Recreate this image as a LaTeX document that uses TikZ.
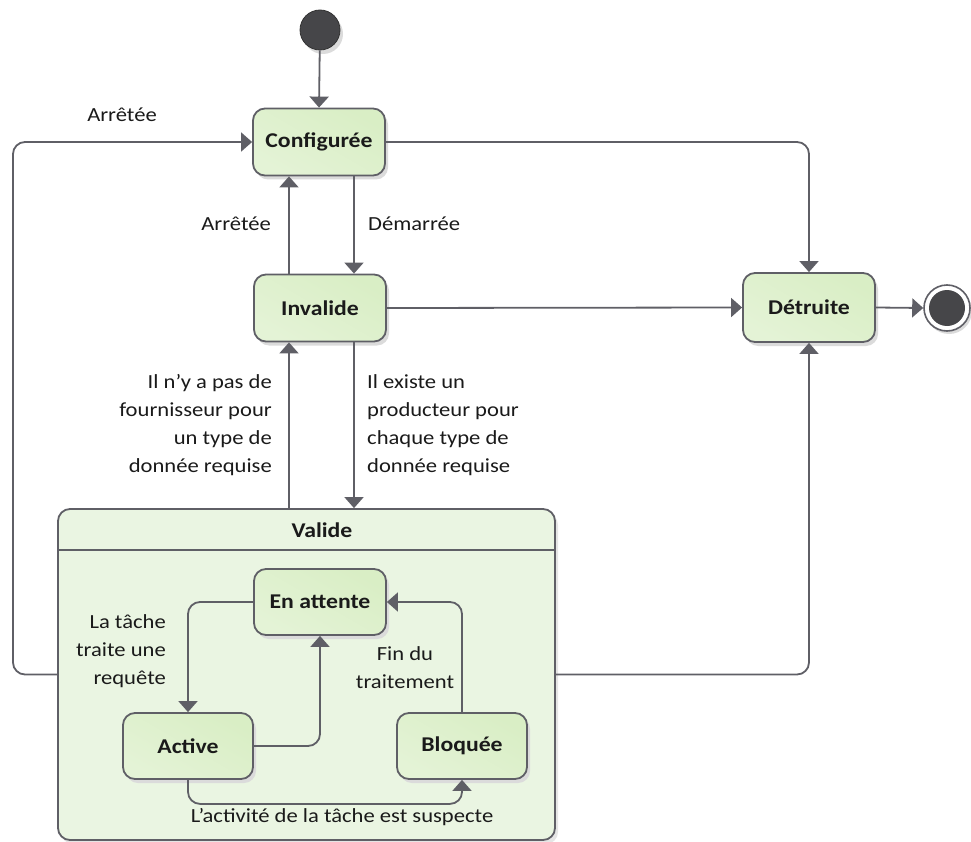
\documentclass[tikz,border=0pt]{standalone}
\usepackage{fontspec}
\setmainfont{Carlito}[FakeStretch=1.13]
\usetikzlibrary{arrows.meta,shadows}
\definecolor{linec}{HTML}{5F5F66}
\definecolor{boxfill}{HTML}{D9EEC5}
\definecolor{boxfillb}{HTML}{E4F3D6}
\definecolor{contfill}{HTML}{EAF5E2}
\definecolor{textc}{HTML}{1A1A1A}
\definecolor{dotc}{HTML}{464649}
\tikzset{
  x=1pt, y=-1pt,
  stbox/.style={draw=linec, line width=1.8pt, rounded corners=12pt,
    top color=boxfill, bottom color=boxfillb, shading angle=-30,
    minimum width=132pt, minimum height=67pt, inner sep=0pt,
    font=\fontsize{21}{24}\selectfont\bfseries, text=textc,
    drop shadow={shadow xshift=3pt, shadow yshift=-4pt, fill=black!14, opacity=1}},
  contbox/.style={draw=linec, line width=1.8pt, rounded corners=12pt,
    fill=contfill, inner sep=0pt,
    drop shadow={shadow xshift=3pt, shadow yshift=-4pt, fill=black!10, opacity=1}},
  conn/.style={draw=linec, line width=1.8pt, rounded corners=12pt,
    -{Triangle[width=19pt,length=11pt]}},
  plain/.style={draw=linec, line width=1.8pt},
  lbl/.style={font=\fontsize{20}{28}\selectfont, text=textc, inner sep=0pt},
}
\begin{document}
\begin{tikzpicture}
\useasboundingbox (0,0) rectangle (971,842);
% container
\node[contbox, minimum width=497pt, minimum height=331pt] (valide) at (306.5,674.5) {};
\draw[plain] (valide.west |- 0,550) -- (valide.east |- 0,550);
\node[lbl, font=\fontsize{21}{24}\selectfont\bfseries] (validet) at (322,530) {Valide};
% states
\node[circle, fill=dotc, draw=black!80, line width=0.8pt, minimum size=40pt, inner sep=0pt,
  drop shadow={shadow xshift=3pt, shadow yshift=-4pt, fill=black!14, opacity=1}] (init) at (320,30) {};
\node[stbox] (conf) at (319,142) {Configurée};
\node[stbox] (inval) at (320,308) {Invalide};
\node[stbox, minimum height=69pt] (detr) at (809,307.5) {Détruite};
\node[circle, draw=linec, line width=1.6pt, fill=white, minimum size=46pt, inner sep=0pt,
  drop shadow={shadow xshift=2pt, shadow yshift=-3pt, fill=black!14, opacity=1}] (final) at (947,308) {};
\node[circle, fill=dotc, minimum size=36pt, inner sep=0pt] (finalin) at (final.center) {};
\node[stbox, minimum height=66pt] (att) at (320,602) {En attente};
\node[stbox, minimum width=130pt, minimum height=66pt] (act) at (188,746) {Active};
\node[stbox, minimum width=130pt, minimum height=66pt] (bloq) at (462,746) {Bloquée};
% helper coordinates
\coordinate (xa) at (289,0);
\coordinate (xb) at (354,0);
\coordinate (xl) at (13,0);
% connectors
\draw[conn] (init) -- (conf.north);
\draw[conn] (valide.west) -- (valide.west -| xl) -- (xl |- conf.west) -- (conf.west);
\draw[conn] (conf.east) -| (detr.north);
\draw[conn] (valide.east) -| (detr.south);
\draw[conn] (inval.east) -- (detr.west);
\draw[conn] (detr.east) -- (final.west);
\draw[conn] (inval.north -| xa) -- (conf.south -| xa);
\draw[conn] (conf.south -| xb) -- (inval.north -| xb);
\draw[conn] (valide.north -| xa) -- (inval.south -| xa);
\draw[conn] (inval.south -| xb) -- (valide.north -| xb);
\draw[conn] (att.west) -| (act.north);
\draw[conn] (act.east) -| (att.south);
\draw[conn] (bloq.north) |- (att.east);
\draw[conn] (act.south) -- ++(0,24) -| (bloq.south);
% labels
\node[lbl] (l1) at (122,115) {Arrêtée};
\node[lbl, anchor=east] (l2) at (271,224) {Arrêtée};
\node[lbl, anchor=west] (l3) at (368,224) {Démarrée};
\node[lbl, anchor=east, align=right] (l4) at (272,425.5) {Il n’y a pas de\\fournisseur pour\\un type de\\donnée requise};
\node[lbl, anchor=west, align=left] (l5) at (367,425.5) {Il existe un\\producteur pour\\chaque type de\\donnée requise};
\node[lbl, anchor=east, align=right] (l6) at (166,651.5) {La tâche\\traite une\\requête};
\node[lbl, align=center] (l7) at (405,667.5) {Fin du\\traitement};
\node[lbl] (l8) at (342,817) {L’activité de la tâche est suspecte};
\end{tikzpicture}
\end{document}
